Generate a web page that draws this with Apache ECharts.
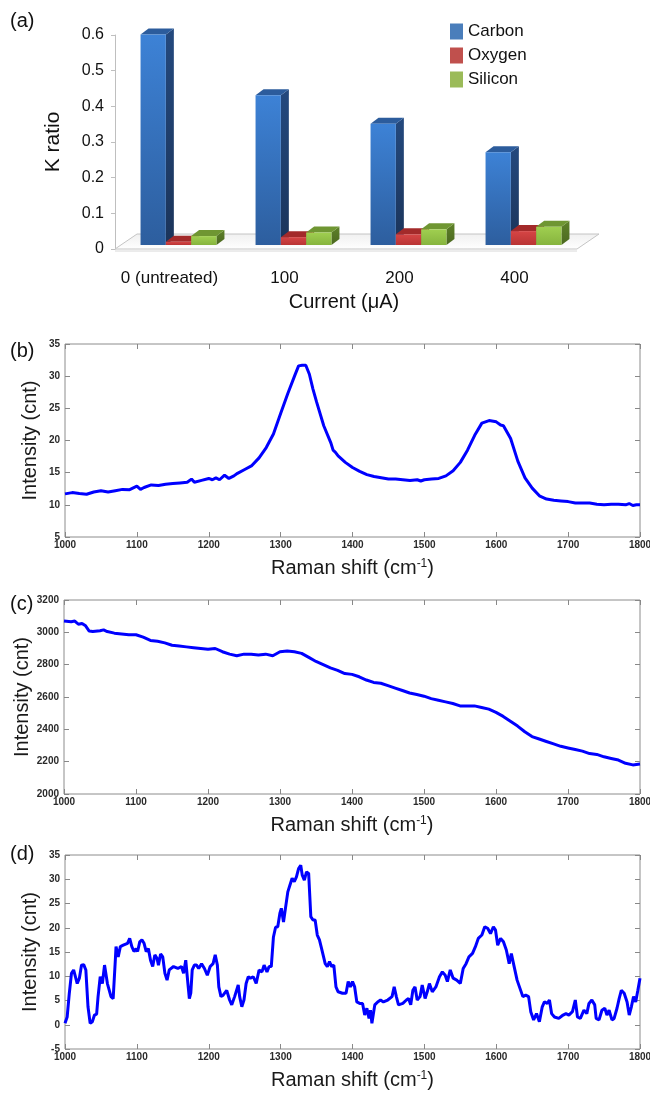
<!DOCTYPE html>
<html><head><meta charset="utf-8">
<script src="https://cdn.jsdelivr.net/npm/echarts@6/dist/echarts.min.js"></script>
<style>html,body{margin:0;padding:0;background:#fff}#c{width:650px;height:1094px}</style>
</head><body><div id="c"></div>
<script>
// ---- Panel (a) data ----
var currents = ['0 (untreated)', '100', '200', '400'];
var carbon  = [0.59, 0.42, 0.34, 0.26];
var oxygen  = [0.009, 0.022, 0.030, 0.039];
var silicon = [0.025, 0.035, 0.044, 0.051];
var kTicks = [0, 0.6, 0.1];

// ---- Panel (b) data ----
var bX = [1000,1010,1020,1030,1040,1050,1060,1070,1080,1090,1100,1105,1110,1120,1130,1140,1150,1160,1170,1176,1180,1190,1200,1205,1210,1215,1222,1228,1235,1240,1250,1260,1270,1280,1290,1300,1310,1320,1325,1330,1335,1340,1345,1350,1360,1370,1373,1376,1380,1390,1400,1410,1420,1430,1440,1450,1460,1470,1480,1490,1495,1500,1510,1520,1530,1540,1550,1560,1570,1580,1590,1600,1606,1610,1620,1630,1640,1650,1660,1670,1680,1690,1700,1710,1720,1730,1740,1750,1760,1770,1780,1785,1790,1795,1800];
var bY = [11.7,11.9,11.75,11.65,12.0,12.2,12.0,12.2,12.4,12.35,12.9,12.4,12.7,13.1,13.0,13.2,13.3,13.4,13.5,14.0,13.5,13.8,14.1,13.9,14.2,13.9,14.6,14.1,14.5,14.9,15.5,16.1,17.3,18.9,21.0,24.2,27.3,30.2,31.6,31.7,31.7,30.3,28.0,26.0,22.3,19.6,18.5,18.2,17.6,16.6,15.8,15.2,14.7,14.4,14.2,14.0,14.0,13.9,13.8,13.9,13.7,13.9,14.0,14.1,14.5,15.3,16.6,18.5,20.8,22.7,23.1,22.9,22.4,22.3,20.3,16.8,14.2,12.6,11.4,10.9,10.7,10.6,10.5,10.3,10.3,10.3,10.1,10.0,10.1,10.1,10.0,10.2,9.9,10.0,10.0];

// ---- Panel (c) data ----
var cX = [1000,1010,1015,1020,1025,1030,1035,1040,1050,1055,1060,1070,1080,1090,1100,1110,1120,1130,1140,1150,1160,1170,1180,1190,1200,1210,1220,1230,1240,1250,1260,1270,1280,1290,1300,1310,1320,1330,1340,1350,1360,1370,1380,1390,1400,1410,1420,1430,1440,1450,1460,1470,1480,1490,1500,1510,1520,1530,1540,1550,1560,1570,1580,1590,1600,1610,1620,1630,1640,1650,1660,1670,1680,1690,1700,1710,1720,1730,1740,1750,1760,1770,1780,1790,1800];
var cY = [3070,3065,3070,3050,3055,3040,3008,3005,3010,3015,3005,2995,2990,2985,2985,2970,2950,2945,2935,2920,2915,2910,2905,2900,2895,2900,2880,2865,2855,2865,2865,2860,2865,2855,2880,2885,2880,2870,2845,2820,2800,2780,2765,2745,2740,2725,2705,2690,2685,2670,2655,2640,2625,2615,2605,2590,2580,2570,2560,2545,2545,2545,2535,2525,2505,2480,2450,2420,2385,2355,2340,2325,2310,2295,2285,2275,2265,2250,2245,2230,2220,2210,2190,2180,2185];

// ---- Panel (d) data ----
var dX = [1000,1003,1006,1009,1012,1014,1017,1020,1023,1026,1029,1032,1035,1038,1041,1044,1046,1049,1052,1055,1057,1059,1061,1064,1067,1070,1071,1074,1077,1081,1087,1090,1093,1096,1099,1101,1104,1107,1110,1113,1116,1119,1122,1125,1128,1130,1133,1136,1139,1142,1145,1151,1157,1162,1165,1168,1171,1173,1175,1177,1180,1183,1186,1190,1194,1198,1202,1206,1209,1212,1214,1217,1220,1225,1229,1232,1236,1241,1243,1246,1249,1252,1255,1258,1262,1266,1270,1274,1277,1281,1284,1287,1290,1293,1296,1299,1301,1304,1307,1310,1313,1316,1319,1322,1325,1328,1330,1333,1336,1339,1342,1345,1348,1351,1354,1357,1359,1362,1365,1368,1371,1374,1377,1380,1386,1391,1394,1397,1400,1403,1406,1410,1414,1417,1420,1423,1425,1427,1431,1435,1439,1443,1449,1455,1458,1461,1464,1470,1475,1478,1481,1484,1487,1490,1494,1497,1501,1504,1507,1511,1516,1521,1525,1529,1532,1536,1540,1545,1550,1554,1558,1562,1567,1571,1575,1580,1584,1588,1592,1596,1599,1602,1606,1610,1614,1618,1621,1624,1629,1633,1637,1641,1645,1648,1652,1656,1660,1664,1667,1671,1674,1677,1681,1687,1693,1697,1701,1706,1710,1713,1717,1722,1726,1729,1733,1737,1739,1743,1747,1751,1754,1757,1761,1764,1768,1771,1774,1778,1782,1785,1788,1791,1794,1797,1800];
var dY = [0.3,1.6,6.5,10.6,11.3,11.1,8.5,9.6,12.3,12.4,11.3,3.7,0.3,0.6,2.0,2.2,5.8,9.9,8.5,12.3,12.6,8.5,8.2,5.8,5.4,13.3,16.1,14.0,16.1,16.4,16.8,17.8,16.1,15.1,15.7,15.1,17.1,17.5,16.8,15.1,15.7,13.3,12.0,14.4,13.7,12.3,14.6,14.0,10.6,9.2,11.3,12.0,11.6,12.0,10.6,13.3,8.5,5.4,6.5,11.3,12.3,12.3,11.6,12.6,11.6,10.2,12.0,12.6,14.4,12.3,7.8,5.8,6.1,7.1,5.1,4.1,5.8,8.2,5.8,3.7,5.1,8.5,9.9,9.6,9.9,8.5,11.3,10.9,12.3,10.9,12.0,12.0,18.1,20.1,20.2,23.0,24.0,21.2,24.3,27.4,28.8,30.2,29.5,30.5,32.2,32.9,30.9,29.8,31.5,31.2,22.3,21.6,21.6,18.5,17.5,15.7,16.1,12.6,12.0,13.0,12.0,12.3,7.8,6.8,6.5,6.5,8.9,7.8,8.9,7.8,4.7,4.4,4.4,2.0,3.4,1.3,3.0,0.3,4.1,4.7,5.1,4.7,5.1,5.8,7.8,5.8,4.1,4.4,5.1,5.4,4.1,7.1,7.8,5.1,5.8,8.2,5.4,6.8,8.5,6.8,7.8,9.9,10.9,10.2,8.9,11.3,9.6,9.2,8.5,11.6,12.6,14.0,14.7,16.1,17.8,18.5,20.2,19.9,18.8,20.2,19.5,16.4,17.8,17.1,15.4,12.6,14.7,12.6,9.2,7.5,5.8,6.1,5.8,2.7,1.0,2.3,0.6,3.7,4.7,4.4,5.1,2.3,1.6,1.3,2.0,2.3,2.0,2.7,5.1,1.6,1.3,3.0,2.3,4.4,5.1,4.1,1.3,1.0,3.0,3.4,2.0,3.0,1.0,1.3,3.4,5.4,7.1,6.5,4.7,2.0,3.7,5.8,4.7,7.1,9.6];

var ramanTicks = [1000, 1800, 100];
var bTicks = [5, 35, 5];
var cTicks = [2000, 3200, 200];
var dTicks = [-5, 35, 5];

function pairs(xs, ys) { return xs.map(function (x, i) { return [x, ys[i]]; }); }
function plain(v) { return String(v); }

var FONT = '"Liberation Sans", Arial, sans-serif';
var chart = echarts.init(document.getElementById('c'), null, { renderer: 'canvas' });

function lg(c0, c1) {
  return new echarts.graphic.LinearGradient(0, 0, 0, 1, [{ offset: 0, color: c0 }, { offset: 1, color: c1 }]);
}
var palettes = [
  { front: ['#3d82d6', '#2d5e9e'], top: '#2c5c9c', side: ['#24497e', '#1b345a'], legend: '#4a7ebb' },
  { front: ['#d64545', '#b93434'], top: '#a32a2a', side: ['#8c2424', '#6e1b1b'], legend: '#c0504d' },
  { front: ['#a0cf50', '#86b43e'], top: '#6f9632', side: ['#5e8129', '#4b6820'], legend: '#9bbb59' }
];
function bar3d(k) {
  var p = palettes[k];
  return function (params, api) {
    var ci = api.value(0), v = api.value(1);
    var base = api.coord([ci, 0]), top = api.coord([ci, v]);
    var band = api.size([1, 0])[0];
    var w = band * 0.22;
    var cx = base[0] + (k - 1) * w;
    var x0 = cx - w / 2, x1 = cx + w / 2;
    var yb = base[1] - 4, yt = top[1] - 4;
    var dx = 8, dy = -6;
    return {
      type: 'group',
      children: [
        { type: 'polygon', shape: { points: [[x1, yt], [x1 + dx, yt + dy], [x1 + dx, yb + dy], [x1, yb]] }, style: { fill: lg(p.side[0], p.side[1]) } },
        { type: 'polygon', shape: { points: [[x0, yt], [x0 + dx, yt + dy], [x1 + dx, yt + dy], [x1, yt]] }, style: { fill: p.top } },
        { type: 'rect', shape: { x: x0, y: yt, width: w, height: Math.max(yb - yt, 0.5) }, style: { fill: lg(p.front[0], p.front[1]) } }
      ]
    };
  };
}
function floorItem(params, api) {
  var b0 = api.coord([0, 0]), b3 = api.coord([3, 0]);
  var band = api.size([1, 0])[0];
  var xl = b0[0] - band / 2 - 6, xr = b3[0] + band / 2 - 4, y = b0[1];
  var ddx = 22, ddy = -15;
  return {
    type: 'group',
    children: [
      { type: 'polygon', shape: { points: [[xl, y], [xl + ddx, y + ddy], [xr + ddx, y + ddy], [xr, y]] },
        style: { fill: lg('#f0f0f0', '#ffffff'), stroke: '#c4c4c4', lineWidth: 1 } },
      { type: 'line', shape: { x1: xl, y1: y + 2, x2: xr, y2: y + 2 }, style: { stroke: '#d8d8d8', lineWidth: 1 } }
    ]
  };
}

function ramanX(gridIndex, pos) {
  return {
    type: 'value', gridIndex: gridIndex, position: pos, min: ramanTicks[0], max: ramanTicks[1], interval: ramanTicks[2],
    axisLine: { show: false, onZero: false }, splitLine: { show: false },
    axisTick: { show: true, inside: true, length: 5, lineStyle: { color: '#888' } },
    axisLabel: pos === 'bottom' ? { show: true, margin: 3, fontSize: 10, fontWeight: 'bold', color: '#2a2a2a', fontFamily: FONT, formatter: plain } : { show: false },
    name: pos === 'bottom' ? 'Raman shift (cm{sup|-1})' : '',
    nameLocation: 'middle', nameGap: 21,
    nameTextStyle: { fontSize: 20, color: '#1a1a1a', fontFamily: FONT,
      rich: { sup: { fontSize: 12, verticalAlign: 'top', fontFamily: FONT, color: '#1a1a1a', padding: [0, 0, 8, 0] } } }
  };
}
function intensityY(gridIndex, pos, t) {
  return {
    type: 'value', gridIndex: gridIndex, position: pos, min: t[0], max: t[1], interval: t[2],
    axisLine: { show: false, onZero: false }, splitLine: { show: false },
    axisTick: { show: true, inside: true, length: 5, lineStyle: { color: '#888' } },
    axisLabel: pos === 'left' ? { show: true, margin: 5, fontSize: 10, fontWeight: 'bold', color: '#2a2a2a', fontFamily: FONT, formatter: plain } : { show: false },
    name: pos === 'left' ? 'Intensity (cnt)' : '',
    nameLocation: 'middle', nameMoveOverlap: false,
    nameGap: pos === 'left' ? (t[1] > 1000 ? 32 : 25) : 0,
    nameTextStyle: { fontSize: 20, color: '#1a1a1a', fontFamily: FONT }
  };
}
function gridBox(left, top, width, height) {
  return { left: left, top: top, width: width, height: height, show: true, borderColor: '#8c8c8c', borderWidth: 1,
    backgroundColor: 'transparent', containLabel: false, outerBoundsMode: 'none' };
}
function ramanLine(xi, yi, data) {
  return { type: 'line', xAxisIndex: xi, yAxisIndex: yi, data: data, showSymbol: false, symbol: 'none', silent: true,
    lineStyle: { color: '#0000ff', width: 3 }, animation: false };
}

var option = {
  animation: false,
  textStyle: { fontFamily: FONT },
  grid: [
    { left: 121, top: 35, width: 460, height: 214, containLabel: false, outerBoundsMode: 'none' },
    gridBox(65, 344, 575, 193),
    gridBox(64, 600, 576, 194),
    gridBox(65, 855, 575, 194)
  ],
  legend: {
    orient: 'vertical', left: 445, top: 18, icon: 'rect', itemWidth: 13, itemHeight: 16, itemGap: 7,
    textStyle: { fontSize: 17, color: '#111', fontFamily: FONT },
    data: ['Carbon', 'Oxygen', 'Silicon']
  },
  xAxis: [
    { type: 'category', gridIndex: 0, data: currents, axisLine: { show: false }, axisTick: { show: false },
      axisLabel: { fontSize: 17, color: '#111', margin: 21, padding: [0, 18, 0, 0], fontFamily: FONT, interval: 0 },
      name: 'Current (μA)', nameLocation: 'middle', nameGap: 43,
      nameTextStyle: { fontSize: 20, color: '#111', padding: [0, 14, 0, 0], fontFamily: FONT } },
    ramanX(1, 'bottom'), ramanX(1, 'top'),
    ramanX(2, 'bottom'), ramanX(2, 'top'),
    ramanX(3, 'bottom'), ramanX(3, 'top')
  ],
  yAxis: [
    { type: 'value', gridIndex: 0, min: kTicks[0], max: kTicks[1], interval: kTicks[2], offset: 6,
      axisLine: { show: true, onZero: false, lineStyle: { color: '#bfbfbf' } },
      axisTick: { show: true, length: 4, lineStyle: { color: '#bfbfbf' } },
      splitLine: { show: false },
      axisLabel: { fontSize: 16, color: '#111', margin: 11, fontFamily: FONT },
      name: 'K ratio', nameLocation: 'middle', nameGap: 51,
      nameTextStyle: { fontSize: 21, color: '#111', fontFamily: FONT } },
    intensityY(1, 'left', bTicks), intensityY(1, 'right', bTicks),
    intensityY(2, 'left', cTicks), intensityY(2, 'right', cTicks),
    intensityY(3, 'left', dTicks), intensityY(3, 'right', dTicks)
  ],
  series: [
    { type: 'custom', name: 'floor', xAxisIndex: 0, yAxisIndex: 0, data: [[0, 0]], renderItem: floorItem, silent: true, z: 1 },
    { type: 'custom', name: 'Carbon', xAxisIndex: 0, yAxisIndex: 0, itemStyle: { color: palettes[0].legend }, z: 2,
      data: carbon.map(function (v, i) { return [i, v]; }), renderItem: bar3d(0) },
    { type: 'custom', name: 'Oxygen', xAxisIndex: 0, yAxisIndex: 0, itemStyle: { color: palettes[1].legend }, z: 3,
      data: oxygen.map(function (v, i) { return [i, v]; }), renderItem: bar3d(1) },
    { type: 'custom', name: 'Silicon', xAxisIndex: 0, yAxisIndex: 0, itemStyle: { color: palettes[2].legend }, z: 4,
      data: silicon.map(function (v, i) { return [i, v]; }), renderItem: bar3d(2) },
    ramanLine(1, 1, pairs(bX, bY)),
    ramanLine(3, 3, pairs(cX, cY)),
    ramanLine(5, 5, pairs(dX, dY))
  ],
  graphic: [
    { type: 'text', left: 10, top: 11, style: { text: '(a)', fontSize: 20, fill: '#111', fontFamily: FONT } },
    { type: 'text', left: 10, top: 341, style: { text: '(b)', fontSize: 20, fill: '#111', fontFamily: FONT } },
    { type: 'text', left: 10, top: 594, style: { text: '(c)', fontSize: 20, fill: '#111', fontFamily: FONT } },
    { type: 'text', left: 10, top: 844, style: { text: '(d)', fontSize: 20, fill: '#111', fontFamily: FONT } }
  ]
};
chart.setOption(option);
</script>
</body></html>
